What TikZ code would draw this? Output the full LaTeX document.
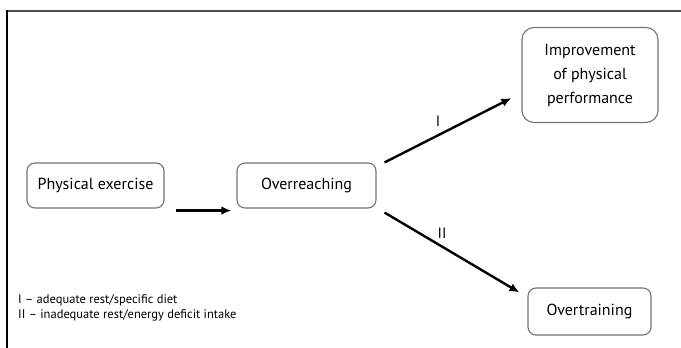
\documentclass[tikz,border=0pt]{standalone}
\usepackage{fontspec}
\setmainfont{PT Sans}
\usetikzlibrary{arrows.meta}

\tikzset{
  stagebox/.style={draw=black!55, line width=1.1pt, rounded corners=8pt, align=center,
    inner sep=0pt, font=\fontsize{16}{24}\selectfont},
  flowarrow/.style={line width=2.4pt, -{Latex[length=10pt,width=8.5pt]}},
  pathlabel/.style={font=\fontsize{15}{18}\selectfont, inner sep=0pt},
  legendtext/.style={font=\fontsize{12.5}{15}\selectfont, anchor=west, inner sep=0pt}
}

\begin{document}
\begin{tikzpicture}[x=1pt, y=-1pt]
        \useasboundingbox (0, 0) rectangle (681, 348);

        % Draw the frame (top and left only)
        \draw[black!70, line width=2pt] (6, 10.5) -- (681, 10.5);
        \draw[black, line width=2pt] (7, 10) -- (7, 348);

        % Draw the stages
        \node[stagebox, minimum width=137pt, minimum height=45pt] (exercise) at (95.5, 185.5) {Physical exercise};
        \node[stagebox, minimum width=139pt, minimum height=45pt] (overreach) at (306.5, 185.5) {Overreaching};
        \node[stagebox, rounded corners=12pt, minimum width=136pt, minimum height=95pt] (improve) at (590, 75) {Improvement\\of physical\\performance};
        \node[stagebox, minimum width=123pt, minimum height=47pt] (overtrain) at (589.5, 311.5) {Overtraining};

        % Draw the arrows between the stages
        \draw[flowarrow] ([shift={(11, 2)}]exercise.south east) -- ([shift={(-5, 2)}]overreach.south west);
        \draw[flowarrow] ([shift={(8, 0)}]overreach.north east) -- ([shift={(-10, -25)}]improve.south west);
        \draw[flowarrow] ([shift={(8, 4)}]overreach.south east) -- ([shift={(-8, 5)}]overtrain.north west);

        % Path labels
        \node[pathlabel] (labelI) at (438, 121) {I};
        \node[pathlabel] (labelII) at (442, 233) {II};

        % Legend
        \node[legendtext] (legendI) at (18, 300) {I -- adequate rest/specific diet};
        \node[legendtext] (legendII) at (18, 315) {II -- inadequate rest/energy deficit intake};
    \end{tikzpicture}
\end{document}
